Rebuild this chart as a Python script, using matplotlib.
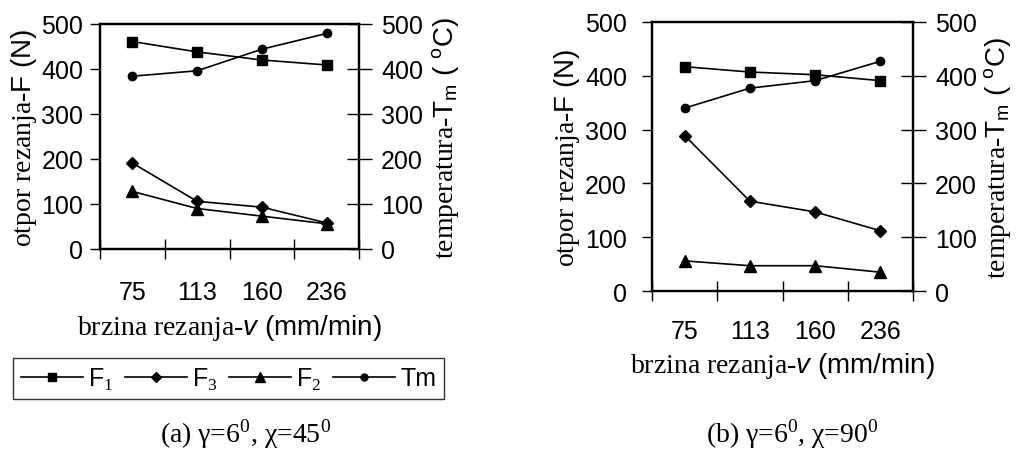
import matplotlib
matplotlib.use("Agg")
import matplotlib.pyplot as plt
from matplotlib.lines import Line2D

plt.rcParams['font.family'] = ['Liberation Sans', 'DejaVu Sans']
plt.rcParams['mathtext.fontset'] = 'custom'
plt.rcParams['mathtext.rm'] = 'Liberation Serif'
plt.rcParams['mathtext.it'] = 'Liberation Sans:italic'
plt.rcParams['mathtext.sf'] = 'Liberation Sans'

speeds = ['75', '113', '160', '236']

# panel (a): gamma=6, chi=45
a_F1 = [461, 438, 420, 409]
a_F3 = [191, 106, 93, 58]
a_F2 = [128, 90, 73, 56]
a_Tm = [384, 396, 444, 479]

# panel (b): gamma=6, chi=90
b_F1 = [417, 407, 402, 391]
b_F3 = [289, 167, 147, 112]
b_F2 = [56, 47, 47, 35]
b_Tm = [340, 377, 391, 427]

y_ticks = [0, 100, 200, 300, 400, 500]

fig = plt.figure(figsize=(10.18, 4.52), dpi=100)
W, H = 1018, 452

def px_axes(l, t, r, b):
    return fig.add_axes([l / W, 1 - b / H, (r - l) / W, (b - t) / H])

serif = ['Liberation Serif', 'DejaVu Serif']
FS = 18
LFS = 20

def panel(ax, F1, F3, F2, Tm, xlab_pad, lpad, ylab_x, rlab_x):
    x = [i + 0.5 for i in range(len(speeds))]
    kw = dict(color='black', lw=1.2)
    ax.plot(x, F1, marker='s', ms=7.5, **kw)
    ax.plot(x, F3, marker='D', ms=6, **kw)
    ax.plot(x, F2, marker='^', ms=8.5, **kw)
    ax.set_xlim(0, len(speeds))
    ax.set_ylim(0, 500)
    ax.set_yticks(y_ticks)
    ax.set_xticks(x)
    ax.set_xticklabels(speeds, fontsize=FS)
    ax.set_xticks(range(len(speeds) + 1), minor=True)
    ax.tick_params(axis='x', which='major', length=0, pad=xlab_pad)
    ax.tick_params(axis='x', which='minor', direction='inout', length=15, width=1)
    ax.tick_params(axis='y', direction='out', length=7, width=1, pad=lpad, labelsize=FS, colors='black')
    for s in ax.spines.values():
        s.set_linewidth(1.6)
    ax.set_ylabel(r"otpor rezanja-$\mathsf{F\ (N)}$", fontsize=LFS, family=serif)
    ax.yaxis.set_label_coords(ylab_x, 0.5)
    ax2 = ax.twinx()
    ax2.plot(x, Tm, marker='o', ms=6, **kw)
    ax2.set_ylim(0, 500)
    ax2.set_yticks(y_ticks)
    ax2.tick_params(axis='y', direction='inout', length=18, width=1, pad=7, labelsize=FS)
    for s in ax2.spines.values():
        s.set_linewidth(1.6)
    ax2.set_ylabel(r"temperatura-$\mathsf{T_m\ (\ ^oC)}$", fontsize=LFS, family=serif)
    ax2.yaxis.set_label_coords(rlab_x, 0.5)
    return ax, ax2

xlab = r"brzina rezanja-$\mathsf{\mathit{v}\ (mm/min)}$"

axa = px_axes(100, 25, 359, 250)
panel(axa, a_F1, a_F3, a_F2, a_Tm, 22, 5, -0.235, 1.275)
axa.set_xlabel(xlab, fontsize=LFS, family=serif, labelpad=6)

axb = px_axes(652, 23, 913, 292)
panel(axb, b_F1, b_F3, b_F2, b_Tm, 20, 11, -0.27, 1.265)
axb.set_xlabel(xlab, fontsize=LFS, family=serif, labelpad=5)

handles = [
    Line2D([], [], color='black', lw=1.2, marker='s', ms=6),
    Line2D([], [], color='black', lw=1.2, marker='D', ms=5),
    Line2D([], [], color='black', lw=1.2, marker='^', ms=7),
    Line2D([], [], color='black', lw=1.2, marker='o', ms=5),
]
labels = [r"$\mathsf{F}_1$", r"$\mathsf{F}_3$", r"$\mathsf{F}_2$", "Tm"]
leg = fig.legend(handles, labels, loc='center', bbox_to_anchor=(228.5 / W, 1 - 379.5 / H),
                 ncol=4, fontsize=18, frameon=True, fancybox=False, edgecolor='black',
                 handlelength=2.5, handletextpad=0.2, columnspacing=0.45, borderpad=0.3,
                 borderaxespad=0)
leg.get_frame().set_linewidth(1.0)

fig.text(246 / W, 1 - 434 / H, r"(a) γ=6$^0$, χ=45$^0$", ha='center', va='center', fontsize=20, family=serif)
fig.text(792 / W, 1 - 434 / H, r"(b) γ=6$^0$, χ=90$^0$", ha='center', va='center', fontsize=20, family=serif)

fig.savefig('out.png', dpi=100)
